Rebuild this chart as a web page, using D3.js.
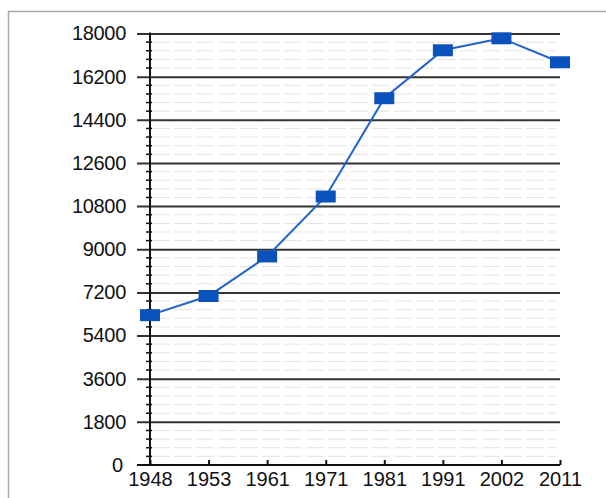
<!DOCTYPE html>
<html>
<head>
<meta charset="utf-8">
<script src="https://cdn.jsdelivr.net/npm/d3@7"></script>
<style>
  body { margin: 0; background: #fff; }
  svg { display: block; font-family: "Liberation Sans", Arial, sans-serif; }
</style>
</head>
<body>
<div id="chart"></div>
<script>
// Data
var years = ["1948", "1953", "1961", "1971", "1981", "1991", "2002", "2011"];
var population = [6250, 7050, 8700, 11200, 15300, 17300, 17800, 16800];
var yTicks = [0, 1800, 3600, 5400, 7200, 9000, 10800, 12600, 14400, 16200, 18000];

var svgWidth = 606;
var svgHeight = 498;

var svg = d3.select('#chart').append('svg')
    .attr('width', svgWidth)
    .attr('height', svgHeight);

// frame around the figure
svg.append('path')
    .attr('d', 'M8.5,498 L8.5,11.5 L606,11.5')
    .attr('fill', 'none')
    .attr('stroke', '#a8a8a8')
    .attr('stroke-width', 1.5);

var x = d3.scalePoint()
    .domain(years)
    .range([150, 560]);

var y = d3.scaleLinear()
    .domain([0, 18000])
    .range([465, 33.5]);

// minor gridlines every 360
var minor = d3.range(360, 18000, 360).filter(v => v % 1800 !== 0);
svg.append('g').selectAll('line')
    .data(minor)
    .enter()
    .append('line')
    .attr('x1', 152)
    .attr('x2', 556)
    .attr('y1', d => y(d))
    .attr('y2', d => y(d))
    .attr('stroke', '#e4e4e4')
    .attr('stroke-width', 1)
    .attr('stroke-dasharray', '18,4');

// minor ticks on the y axis
svg.append('g').selectAll('line')
    .data(minor)
    .enter()
    .append('line')
    .attr('x1', 146)
    .attr('x2', 152)
    .attr('y1', d => y(d))
    .attr('y2', d => y(d))
    .attr('stroke', '#111')
    .attr('stroke-width', 1.5);

// major gridlines + y labels
var leftAxis = d3.axisLeft(y)
    .tickValues(yTicks.filter(v => v > 0))
    .tickSize(-(560 - 137))
    .tickFormat(d3.format('d'));

var yAxisG = svg.append('g')
    .attr('transform', 'translate(137,0)')
    .call(leftAxis);
yAxisG.select('.domain').remove();
yAxisG.selectAll('.tick line')
    .attr('stroke', '#333')
    .attr('stroke-width', 2);
yAxisG.selectAll('.tick text')
    .attr('x', -11)
    .attr('fill', '#111')
    .style('font-size', '20px')
    .style('letter-spacing', '-0.3px')
    .style('font-family', '"Liberation Sans", Arial, sans-serif');

// "0" label
svg.append('text')
    .attr('x', 123)
    .attr('y', y(0) + 2)
    .attr('text-anchor', 'end')
    .attr('dominant-baseline', 'middle')
    .style('font-size', '20px')
    .attr('fill', '#111')
    .text(yTicks[0]);

// y axis line
svg.append('line')
    .attr('x1', 150).attr('x2', 150)
    .attr('y1', y(18000) - 1).attr('y2', y(0))
    .attr('stroke', '#111')
    .attr('stroke-width', 2);

// x axis
var bottomAxis = d3.axisBottom(x).tickSize(-5).tickSizeOuter(0);
var xAxisG = svg.append('g')
    .attr('transform', `translate(0, ${y(0)})`)
    .call(bottomAxis);
xAxisG.select('.domain')
    .attr('d', 'M137,0H560')
    .attr('stroke', '#111')
    .attr('stroke-width', 2);
xAxisG.selectAll('.tick line')
    .attr('stroke', '#111')
    .attr('stroke-width', 2);
xAxisG.selectAll('.tick text')
    .attr('y', 7)
    .attr('dy', '0.71em')
    .attr('fill', '#111')
    .style('font-size', '20px')
    .style('font-family', '"Liberation Sans", Arial, sans-serif');

// data line
var line = d3.line()
    .x((d, i) => x(years[i]))
    .y(d => y(d));

svg.append('path')
    .datum(population)
    .attr('d', line)
    .attr('fill', 'none')
    .attr('stroke', '#1f62cc')
    .attr('stroke-width', 2);

// square markers
svg.append('g').selectAll('rect')
    .data(population)
    .enter()
    .append('rect')
    .attr('x', (d, i) => x(years[i]) - 10)
    .attr('y', d => y(d) - 6)
    .attr('width', 20)
    .attr('height', 12)
    .attr('fill', '#0b52bd');
</script>
</body>
</html>
